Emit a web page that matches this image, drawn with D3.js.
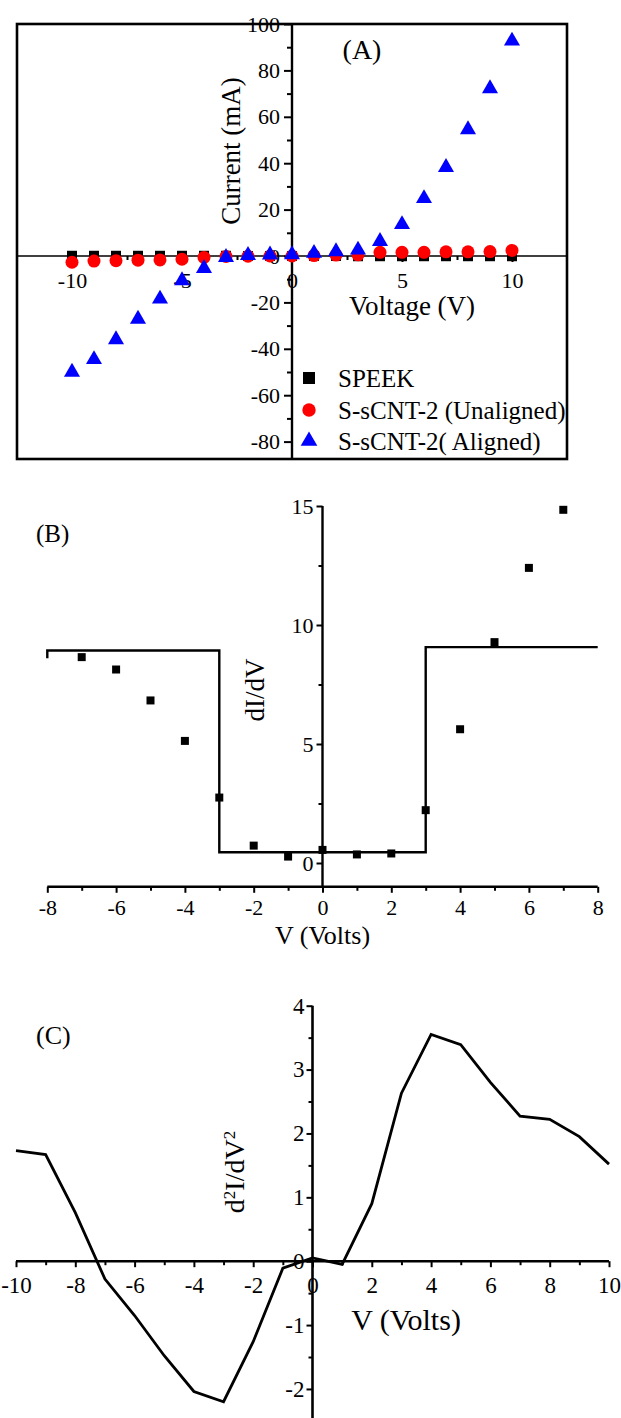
<!DOCTYPE html>
<html><head><meta charset="utf-8">
<script src="https://cdn.jsdelivr.net/npm/d3@7"></script>
<style>body{margin:0;background:#fff}svg{display:block}</style>
</head><body>
<svg id="c" width="621" height="1418"></svg>
<script>
// ---------- Panel A data ----------
const voltageA = [-10,-9,-8,-7,-6,-5,-4,-3,-2,-1,0,1,2,3,4,5,6,7,8,9,10];
const speek     = [0.1,0.1,0.1,0.1,0.1,0.1,0.1,0.1,0,0,0,0,0,-0.1,-0.1,-0.1,-0.1,-0.1,-0.1,-0.1,-0.1];
const unaligned = [-2.7,-2.2,-2.0,-1.8,-1.7,-1.4,-0.6,-0.2,-0.1,0,0,0.2,0.4,0.5,1.6,1.6,1.6,1.8,1.8,1.9,2.4];
const aligned   = [-50.0,-44.6,-36.0,-27.2,-18.5,-10.6,-5.3,-0.6,0.3,0.5,0.6,1.2,1.9,2.6,6.3,13.6,24.8,38.2,54.5,72.2,92.7];
const legendLabels = ["SPEEK","S-sCNT-2 (Unaligned)","S-sCNT-2( Aligned)"];
const ticksAx = [-10,-5,0,5,10];
const minorAx = [-12.5,-7.5,-2.5,2.5,7.5,12.5];
const ticksAy = [-80,-60,-40,-20,0,20,40,60,80,100];
const minorAy = [-70,-50,-30,-10,10,30,50,70,90];

// ---------- Panel B data ----------
const voltageB = [-7,-6,-5,-4,-3,-2,-1,0,1,2,3,4,5,6,7];
const dIdV     = [8.65,8.13,6.83,5.13,2.75,0.73,0.27,0.55,0.36,0.4,2.22,5.62,9.28,12.4,14.84];
const stepX = [-8,-8,-3,-3,3,3,8];
const stepY = [8.6,8.93,8.93,0.45,0.45,9.07,9.07];
const ticksBx = [-8,-6,-4,-2,0,2,4,6,8];
const minorBx = [-7,-5,-3,-1,1,3,5,7];
const ticksBy = [0,5,10,15];
const minorBy = [2.5,7.5,12.5];

// ---------- Panel C data ----------
const voltageC = [-10,-9,-8,-7,-6,-5,-4,-3,-2,-1,0,1,2,3,4,5,6,7,8,9,10];
const d2IdV2   = [1.73,1.67,0.76,-0.28,-0.85,-1.48,-2.04,-2.2,-1.26,-0.11,0.05,-0.05,0.9,2.63,3.55,3.39,2.8,2.27,2.22,1.95,1.52];
const ticksCx = [-10,-8,-6,-4,-2,0,2,4,6,8,10];
const minorCx = [-9,-7,-5,-3,-1,1,3,5,7,9];
const ticksCy = [-2,-1,0,1,2,3,4];
const minorCy = [-2.5,-1.5,-0.5,0.5,1.5,2.5,3.5];

const FONT = "'Liberation Serif','Times New Roman',serif";
const svg = d3.select("#c");
const fmt = d => String(d);

function styleAxis(g, size){
  g.select(".domain").remove();
  g.attr("font-family", FONT).attr("font-size", size);
  g.selectAll(".tick line").attr("stroke","#000").attr("stroke-width",2);
  g.selectAll(".tick text").attr("fill","#000");
}
function addAxis(parent, axis, tx, ty, size){
  const g = parent.append("g").attr("transform",`translate(${tx},${ty})`).call(axis);
  styleAxis(g, size);
  return g;
}
function rotLabel(parent, cx, cy, size){
  return parent.append("text").attr("transform",`translate(${cx},${cy}) rotate(-90)`)
    .attr("text-anchor","middle").attr("dy","0.35em").attr("font-family",FONT).attr("font-size",size);
}

// ================= Panel A =================
const xA = d3.scaleLinear().domain([-10,10]).range([72,512]);
const yA = d3.scaleLinear().domain([0,100]).range([256,24]);
const gA = svg.append("g");
gA.append("rect").attr("x",xA(-12.5)).attr("y",yA(100))
  .attr("width",xA(12.5)-xA(-12.5)).attr("height",yA(-87.5)-yA(100))
  .attr("fill","none").attr("stroke","#000").attr("stroke-width",2.6);
gA.append("line").attr("x1",xA(-12.5)).attr("x2",xA(12.5)).attr("y1",yA(0)).attr("y2",yA(0))
  .attr("stroke","#000").attr("stroke-width",1.6);
gA.append("line").attr("x1",xA(0)).attr("x2",xA(0)).attr("y1",yA(100)).attr("y2",yA(-87.5))
  .attr("stroke","#000").attr("stroke-width",2.4);
addAxis(gA, d3.axisBottom(xA).tickValues(ticksAx).tickSize(6).tickPadding(10).tickFormat(fmt), 0, yA(0), 22);
addAxis(gA, d3.axisBottom(xA).tickValues(minorAx.filter(v=>Math.abs(v)<12.5)).tickSize(4).tickFormat(""), 0, yA(0), 22);
addAxis(gA, d3.axisLeft(yA).tickValues(ticksAy).tickSize(8).tickPadding(4).tickFormat(fmt), xA(0), 0, 22);
addAxis(gA, d3.axisLeft(yA).tickValues(minorAy).tickSize(5).tickFormat(""), xA(0), 0, 22);

gA.append("text").attr("x",362).attr("y",59).attr("text-anchor","middle")
  .attr("font-family",FONT).attr("font-size",28).text("(A)");
rotLabel(gA, 231, 151, 27).text("Current (mA)");
gA.append("text").attr("x",412).attr("y",315).attr("text-anchor","middle")
  .attr("font-family",FONT).attr("font-size",27).text("Voltage (V)");

const sq = d3.symbol().type(d3.symbolSquare).size(100)();
const circ = d3.symbol().type(d3.symbolCircle).size(133)();
const tri = d3.symbol().type(d3.symbolTriangle).size(112)();

gA.append("g").selectAll("path").data(voltageA).join("path")
  .attr("d",sq).attr("fill","#000")
  .attr("transform",(d,i)=>`translate(${xA(d)},${yA(speek[i])})`);
gA.append("g").selectAll("path").data(voltageA).join("path")
  .attr("d",circ).attr("fill","#ff0000")
  .attr("transform",(d,i)=>`translate(${xA(d)},${yA(unaligned[i])})`);
gA.append("g").selectAll("path").data(voltageA).join("path")
  .attr("d",tri).attr("fill","#0000ff")
  .attr("transform",(d,i)=>`translate(${xA(d)},${yA(aligned[i])})`);

// legend
const legSym = [
  {d:d3.symbol().type(d3.symbolSquare).size(144)(), c:"#000"},
  {d:d3.symbol().type(d3.symbolCircle).size(140)(), c:"#ff0000"},
  {d:d3.symbol().type(d3.symbolTriangle).size(120)(), c:"#0000ff"}
];
const legY = [378, 410, 441];
const leg = gA.append("g");
legendLabels.forEach((t,i)=>{
  leg.append("path").attr("d",legSym[i].d).attr("fill",legSym[i].c)
    .attr("transform",`translate(309,${legY[i]})`);
  leg.append("text").attr("x",338).attr("y",legY[i]).attr("dy","0.35em")
    .attr("font-family",FONT).attr("font-size",25).text(t);
});

// ================= Panel B =================
const xB = d3.scaleLinear().domain([-8,8]).range([47.3,597.7]);
const yB = d3.scaleLinear().domain([0,15]).range([863,506]);
const gB = svg.append("g");
gB.append("line").attr("x1",xB(0)).attr("x2",xB(0)).attr("y1",yB(15)).attr("y2",yB(-1))
  .attr("stroke","#000").attr("stroke-width",2.4);
gB.append("line").attr("x1",xB(-8)).attr("x2",xB(8)).attr("y1",yB(-1)).attr("y2",yB(-1))
  .attr("stroke","#000").attr("stroke-width",2.4);
addAxis(gB, d3.axisBottom(xB).tickValues(ticksBx).tickSize(6).tickPadding(7).tickFormat(fmt), 0, yB(-1), 22);
addAxis(gB, d3.axisBottom(xB).tickValues(minorBx).tickSize(4).tickFormat(""), 0, yB(-1), 22);
addAxis(gB, d3.axisLeft(yB).tickValues(ticksBy).tickSize(6).tickPadding(3).tickFormat(fmt), xB(0), 0, 22);
addAxis(gB, d3.axisLeft(yB).tickValues(minorBy).tickSize(4).tickFormat(""), xB(0), 0, 22);

const stepLine = d3.line().x((d,i)=>xB(stepX[i])).y((d,i)=>yB(stepY[i]));
gB.append("path").datum(stepX).attr("d",stepLine).attr("fill","none")
  .attr("stroke","#000").attr("stroke-width",2.4);
const sqB = d3.symbol().type(d3.symbolSquare).size(64)();
gB.append("g").selectAll("path").data(voltageB).join("path")
  .attr("d",sqB).attr("fill","#000")
  .attr("transform",(d,i)=>`translate(${xB(d)},${yB(dIdV[i])})`);

gB.append("text").attr("x",36).attr("y",542).attr("font-family",FONT).attr("font-size",25).text("(B)");
rotLabel(gB, 255, 690, 27).text("dI/dV");
gB.append("text").attr("x",xB(0)).attr("y",944).attr("text-anchor","middle")
  .attr("font-family",FONT).attr("font-size",26).text("V (Volts)");

// ================= Panel C =================
const xC = d3.scaleLinear().domain([-10,10]).range([16,609]);
const yC = d3.scaleLinear().domain([0,4]).range([1261.2,1005.7]);
const gC = svg.append("g");
gC.append("line").attr("x1",xC(-10)).attr("x2",xC(10)).attr("y1",yC(0)).attr("y2",yC(0))
  .attr("stroke","#000").attr("stroke-width",2.6);
gC.append("line").attr("x1",xC(0)).attr("x2",xC(0)).attr("y1",yC(4)).attr("y2",yC(-2.6))
  .attr("stroke","#000").attr("stroke-width",2.6);
addAxis(gC, d3.axisBottom(xC).tickValues(ticksCx).tickSize(6).tickPadding(9).tickFormat(fmt), 0, yC(0), 23);
addAxis(gC, d3.axisBottom(xC).tickValues(minorCx).tickSize(4).tickFormat(""), 0, yC(0), 23);
addAxis(gC, d3.axisLeft(yC).tickValues(ticksCy).tickSize(6).tickPadding(2).tickFormat(fmt), xC(0), 0, 23);
addAxis(gC, d3.axisLeft(yC).tickValues(minorCy).tickSize(4).tickFormat(""), xC(0), 0, 23);

const lineC = d3.line().x((d,i)=>xC(voltageC[i])).y((d,i)=>yC(d2IdV2[i]));
gC.append("path").datum(d2IdV2).attr("d",lineC).attr("fill","none")
  .attr("stroke","#000").attr("stroke-width",2.8).attr("stroke-linejoin","miter");

gC.append("text").attr("x",36).attr("y",1044).attr("font-family",FONT).attr("font-size",26).text("(C)");
const lc = rotLabel(gC, 234, 1172, 28);
lc.append("tspan").text("d");
lc.append("tspan").attr("baseline-shift","super").attr("font-size",17).text("2");
lc.append("tspan").text("I/dV");
lc.append("tspan").attr("baseline-shift","super").attr("font-size",17).text("2");
gC.append("text").attr("x",406).attr("y",1330).attr("text-anchor","middle")
  .attr("font-family",FONT).attr("font-size",30).text("V (Volts)");
</script>
</body></html>
